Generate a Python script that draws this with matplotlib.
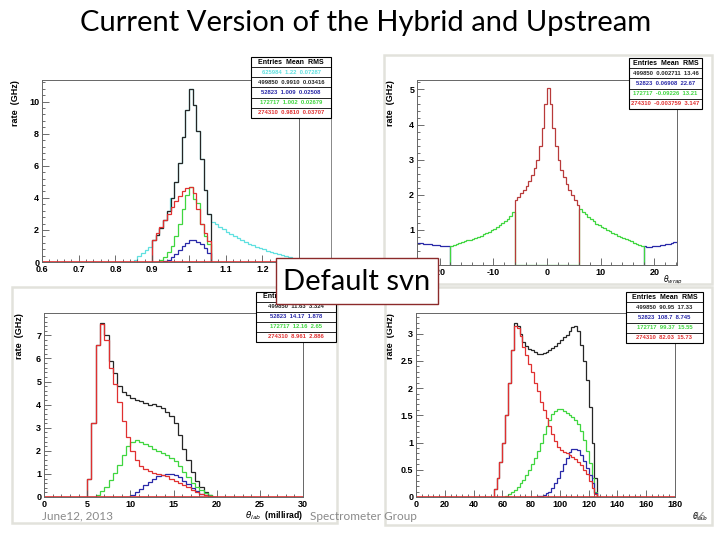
import numpy as np
import matplotlib.pyplot as plt
from matplotlib.patches import Rectangle
from matplotlib.ticker import AutoMinorLocator, MultipleLocator

plt.rcParams['font.family'] = ['Liberation Sans', 'DejaVu Sans']
plt.rcParams['axes.unicode_minus'] = False

W, H = 720, 540
BLACK = '#262626'
CYAN = '#5fe0e0'
BLUE = '#2828a8'
GREEN = '#3fd63f'
RED = '#e03030'

# --- top left: ratio, bins of 0.01
p1_bin = 0.01
p1_cyan_start = 0.85
p1_cyan = [0.15, 0.35, 0.55, 0.75, 0.95,
           1.4, 1.7, 2.1, 2.6, 3.2, 4.0, 5.0, 6.2, 7.8, 9.5, 10.8, 9.8, 8.2, 6.4, 4.5, 3.0,
           2.5, 2.35, 2.2, 2.05, 1.9, 1.75, 1.6, 1.48, 1.36, 1.25, 1.14, 1.04, 0.95, 0.86,
           0.78, 0.7, 0.62, 0.55, 0.48, 0.42, 0.36, 0.3, 0.0, 0.0]
p1_black_start = 0.90
p1_black = [1.4, 1.7, 2.1, 2.6, 3.2, 4.0, 5.0, 6.2, 7.8, 9.5, 10.8, 9.8, 8.2, 6.4, 4.5, 3.0]
p1_green_start = 0.91
p1_green = [0.02, 0.1, 0.3, 0.6, 1.0, 1.6, 2.4, 3.3, 4.2, 4.7, 3.9, 3.7, 2.4, 1.6, 1.1]
p1_blue_start = 0.93
p1_blue = [0.05, 0.15, 0.3, 0.5, 0.75, 1.0, 1.2, 1.35, 1.35, 1.25, 1.1, 0.85, 0.55]
p1_red_start = 0.90
p1_red = [1.4, 1.8, 2.2, 2.6, 3.0, 3.4, 3.8, 4.1, 4.4, 4.6, 4.7, 4.3, 3.3, 2.4, 1.8, 1.3]

# --- top right: theta_wrap, bins of 0.5
p2_bin = 0.5
p2_blue_l_start = -24.5
p2_blue_l = [0.64, 0.63, 0.62, 0.61, 0.6, 0.59, 0.58, 0.57, 0.56, 0.55, 0.54, 0.53, 0.53]
p2_blue_r_start = 18.0
p2_blue_r = [0.53, 0.52, 0.52, 0.53, 0.54, 0.55, 0.56, 0.58, 0.6, 0.61, 0.63, 0.65, 0.66]
p2_green_start = -18.0
p2_green = [0.54, 0.57, 0.6, 0.62, 0.65, 0.67, 0.7, 0.72, 0.75, 0.78, 0.8, 0.84,
            0.87, 0.91, 0.95, 0.99, 1.03, 1.08, 1.13, 1.19, 1.25, 1.32, 1.4, 1.5,
            0, 0, 0, 0, 0, 0, 0, 0, 0, 0, 0, 0,
            0, 0, 0, 0, 0, 0, 0, 0, 0, 0, 0, 0,
            1.6, 1.52, 1.45, 1.38, 1.3, 1.24, 1.18, 1.13, 1.08, 1.04, 1.0, 0.96,
            0.92, 0.88, 0.84, 0.8, 0.77, 0.73, 0.7, 0.67, 0.64, 0.61, 0.58, 0.55]
p2_red_start = -6.0
p2_red = [1.85, 1.95, 2.05, 2.15, 2.25, 2.4, 2.55, 2.75, 3.0, 3.4, 3.9, 4.6,
          5.05, 4.6, 3.9, 3.4, 3.0, 2.7, 2.5, 2.3, 2.15, 2.0, 1.85, 1.7]

# --- bottom left: theta_lab (millirad), bins of 0.5
p3_bin = 0.5
p3_black_start = 5.0
p3_black = [0.8, 3.2, 6.6, 7.55, 7.0, 5.9, 5.35, 4.8, 4.55, 4.4, 4.3, 4.2, 4.15, 4.05, 4.0,
            4.02, 3.95, 3.85, 3.7, 3.5, 3.2, 2.7, 2.1, 1.6, 1.1, 0.7, 0.45, 0.22, 0.08, 0.02]
p3_red_start = 5.0
p3_red = [0.8, 3.2, 6.6, 7.5, 6.8, 5.6, 4.9, 4.1, 3.3, 2.6, 2.0, 1.6, 1.35, 1.2, 1.12,
          1.05, 1.0, 0.95, 0.9, 0.8, 0.7, 0.6, 0.5, 0.42, 0.32, 0.22, 0.14, 0.08, 0.03, 0.0]
p3_green_start = 6.0
p3_green = [0.08, 0.25, 0.45, 0.75, 1.05, 1.4, 1.8, 2.2, 2.4, 2.45, 2.4, 2.3, 2.2, 2.1,
            2.0, 1.9, 1.8, 1.68, 1.55, 1.35, 1.1, 0.85, 0.62, 0.45, 0.3, 0.17, 0.07, 0.02]
p3_blue_start = 9.5
p3_blue = [0.02, 0.08, 0.2, 0.35, 0.5, 0.65, 0.8, 0.9, 0.97, 1.01, 1.0, 0.95, 0.85, 0.7,
           0.55, 0.38, 0.25, 0.15, 0.07, 0.03, 0.0]

# --- bottom right: theta_lab, bins of 2
p4_bin = 2.0
p4_black_start = 54
p4_black = [0.15, 0.35, 0.65, 1.0, 1.5, 2.1, 2.7, 3.2, 3.15, 3.0, 2.85, 2.78, 2.72, 2.7,
            2.66, 2.63, 2.62, 2.64, 2.67, 2.7, 2.73, 2.78, 2.83, 2.88, 2.93, 2.98, 3.05,
            3.12, 3.15, 3.05, 2.8, 2.5, 2.15, 1.65, 1.0, 0.35]
p4_red_start = 54
p4_red = [0.15, 0.35, 0.65, 1.0, 1.5, 2.1, 2.7, 3.15, 3.1, 2.95, 2.75, 2.6, 2.45, 2.3,
          2.1, 1.95, 1.75, 1.6, 1.45, 1.3, 1.15, 1.02, 0.92, 0.86, 0.83, 0.8, 0.78, 0.74,
          0.7, 0.65, 0.58, 0.5, 0.42, 0.3, 0.17, 0.06]
p4_green_start = 62
p4_green = [0.02, 0.05, 0.09, 0.13, 0.18, 0.25, 0.32, 0.4, 0.5, 0.6, 0.72, 0.85, 1.0, 1.15,
            1.3, 1.42, 1.52, 1.58, 1.62, 1.61, 1.58, 1.54, 1.5, 1.47, 1.42, 1.35, 1.22,
            1.05, 0.85, 0.62, 0.35, 0.1]
p4_blue_start = 84
p4_blue = [0.01, 0.02, 0.04, 0.07, 0.1, 0.16, 0.25, 0.35, 0.47, 0.6, 0.72, 0.82, 0.88,
           0.89, 0.87, 0.78, 0.66, 0.53, 0.4, 0.25, 0.08]

# stats boxes: Entries Mean RMS
stats1 = [('625984  1.22  0.07287', CYAN), ('499850  0.9910  0.03416', BLACK),
          ('52823  1.009  0.02508', BLUE), ('172717  1.002  0.02679', GREEN),
          ('274310  0.9810  0.03707', RED)]
stats2 = [('499850  0.002711  13.46', BLACK), ('52823  0.06908  22.67', BLUE),
          ('172717  -0.09226  13.21', GREEN), ('274310  -0.003759  3.147', RED)]
stats3 = [('499850  11.63  3.324', BLACK), ('52823  14.17  1.878', BLUE),
          ('172717  12.16  2.65', GREEN), ('274310  8.961  2.886', RED)]
stats4 = [('499850  90.95  17.33', BLACK), ('52823  108.7  8.745', BLUE),
          ('172717  99.37  15.55', GREEN), ('274310  82.03  15.73', RED)]


def pax(fig, l, t, r, b):
    # axes from pixel box (top-left origin)
    return fig.add_axes([l / W, 1 - b / H, (r - l) / W, (b - t) / H])


def hist(ax, start, width, vals, color, lw=0.9):
    edges = start + width * np.arange(len(vals) + 1)
    ax.stairs(vals, edges, baseline=0, color=color, lw=lw)


def root_style(ax, xmaj, ymaj, xlab_lim, ylim):
    ax.set_xlim(*xlab_lim)
    ax.set_ylim(*ylim)
    ax.xaxis.set_major_locator(MultipleLocator(xmaj))
    ax.yaxis.set_major_locator(MultipleLocator(ymaj))
    ax.xaxis.set_minor_locator(AutoMinorLocator(5))
    ax.yaxis.set_minor_locator(AutoMinorLocator(5))
    ax.tick_params(which='both', direction='in', top=False, right=False,
                   labelsize=6.5, pad=2, width=0.6, color='#555555')
    ax.tick_params(which='major', length=5)
    ax.tick_params(which='minor', length=2.5)
    for lab in ax.get_xticklabels() + ax.get_yticklabels():
        lab.set_fontweight('bold')
    for sp in ax.spines.values():
        sp.set_linewidth(0.7)
        sp.set_color('#666666')
    ax.set_ylabel('rate  (GHz)', fontsize=6.5, fontweight='bold', loc='top')


def stats_box(fig, l, t, r, b, rows):
    n = len(rows) + 1
    fig.add_artist(Rectangle((l / W, 1 - b / H), (r - l) / W, (b - t) / H,
                             transform=fig.transFigure, facecolor='white',
                             edgecolor='black', lw=0.8, zorder=5))
    dh = (b - t) / n
    for i in range(1, n):
        y = 1 - (t + i * dh) / H
        fig.add_artist(plt.Line2D([l / W, r / W], [y, y], transform=fig.transFigure,
                                  color='black', lw=0.6, zorder=6))
    fig.text((l + r) / 2 / W, 1 - (t + dh / 2) / H, 'Entries  Mean  RMS', fontsize=5,
             fontweight='bold', ha='center', va='center', zorder=7)
    for i, (txt, col) in enumerate(rows):
        fig.text((l + r) / 2 / W, 1 - (t + (i + 1.5) * dh) / H, txt, fontsize=4.2,
                 fontweight='bold', color=col, ha='center', va='center', zorder=7)


fig = plt.figure(figsize=(7.2, 5.4), dpi=100)

# canvas frames of the pasted root plots
for l, t, r, b in [(384, 55, 712, 284), (12, 287, 337, 523), (385, 287, 712, 525)]:
    fig.add_artist(Rectangle((l / W, 1 - b / H), (r - l) / W, (b - t) / H,
                             transform=fig.transFigure, fill=False,
                             edgecolor='#e2e2dc', lw=1.8, zorder=1))
fig.add_artist(plt.Line2D([331 / W, 331 / W], [1 - 118 / H, 1 - 262 / H],
                          transform=fig.transFigure, color='#888888', lw=0.7))

# top left
ax1 = pax(fig, 42, 80, 299, 262)
ax1.axhline(0, color=RED, lw=1.2)
hist(ax1, p1_cyan_start, p1_bin, p1_cyan, CYAN)
hist(ax1, p1_black_start, p1_bin, p1_black, BLACK)
hist(ax1, p1_green_start, p1_bin, p1_green, GREEN)
hist(ax1, p1_blue_start, p1_bin, p1_blue, BLUE)
hist(ax1, p1_red_start, p1_bin, p1_red, RED)
root_style(ax1, 0.1, 2, (0.6, 1.3), (0, 11.35))
ax1.set_xticks([0.6, 0.7, 0.8, 0.9, 1.0, 1.1, 1.2])
ax1.set_xticklabels(['0.6', '0.7', '0.8', '0.9', '1', '1.1', '1.2'], fontweight='bold')
ax1.yaxis.set_label_coords(-0.086, 1.0)

# top right
ax2 = pax(fig, 417, 80, 677, 265)
hist(ax2, p2_blue_l_start, p2_bin, p2_blue_l, BLUE)
hist(ax2, p2_blue_r_start, p2_bin, p2_blue_r, BLUE)
hist(ax2, p2_green_start, p2_bin, p2_green, GREEN)
hist(ax2, p2_red_start, p2_bin, p2_red, '#b83a3a')
root_style(ax2, 10, 1, (-24.2, 24.2), (0, 5.27))
ax2.yaxis.set_label_coords(-0.085, 1.0)
ax2.text(0.985, -0.085, r'$\theta_{wrap}$', transform=ax2.transAxes, fontsize=5.5,
         ha='center', va='center')

# bottom left
ax3 = pax(fig, 44, 313, 303, 497)
ax3.axhline(0, color=RED, lw=1.2)
hist(ax3, p3_black_start, p3_bin, p3_black, BLACK)
hist(ax3, p3_green_start, p3_bin, p3_green, GREEN)
hist(ax3, p3_blue_start, p3_bin, p3_blue, BLUE)
hist(ax3, p3_red_start, p3_bin, p3_red, RED)
root_style(ax3, 5, 1, (0, 30), (0, 7.97))
ax3.yaxis.set_label_coords(-0.077, 1.0)
ax3.text(1.0, -0.1, r'$\theta_{lab}$  (millirad)', transform=ax3.transAxes,
         fontsize=6.3, fontweight='bold', ha='right', va='center')

# bottom right
ax4 = pax(fig, 416, 313, 675, 497)
ax4.axhline(0, color=RED, lw=1.2)
hist(ax4, p4_black_start, p4_bin, p4_black, BLACK)
hist(ax4, p4_green_start, p4_bin, p4_green, GREEN)
hist(ax4, p4_blue_start, p4_bin, p4_blue, BLUE)
hist(ax4, p4_red_start, p4_bin, p4_red, RED)
root_style(ax4, 20, 0.5, (0, 180), (0, 3.38))
ax4.set_yticks([0, 0.5, 1, 1.5, 2, 2.5, 3])
ax4.set_yticklabels(['0', '0.5', '1', '1.5', '2', '2.5', '3'], fontweight='bold')
ax4.yaxis.set_label_coords(-0.081, 1.0)
ax4.text(1.097, -0.11, r'$\theta_{lab}$', transform=ax4.transAxes, fontsize=6,
         ha='center', va='center')

stats_box(fig, 251, 57, 331, 118, stats1)
stats_box(fig, 629, 58, 702, 109, stats2)
stats_box(fig, 256, 292, 336, 342, stats3)
stats_box(fig, 626, 292, 703, 343, stats4)

# slide text
fig.text(366 / W, 1 - 23 / H, 'Current Version of the Hybrid and Upstream', fontsize=21,
         family='Lato', ha='center', va='center')
fig.add_artist(Rectangle((276 / W, 1 - 304 / H), 162 / W, 46 / H, transform=fig.transFigure,
                         facecolor='white', edgecolor='#8c2a2a', lw=1.0, zorder=10))
fig.text(357 / W, 1 - 282 / H, 'Default svn', fontsize=21, family='Lato',
         ha='center', va='center', zorder=11)
fig.text(42 / W, 1 - 516 / H, 'June12, 2013', fontsize=8.5, family='Lato',
         color='#8a8a8a', ha='left', va='center')
fig.text(310 / W, 1 - 516 / H, 'Spectrometer Group', fontsize=8.5, family='Lato',
         color='#8a8a8a', ha='left', va='center')
fig.text(700 / W, 1 - 516 / H, '46', fontsize=8.5, family='Lato',
         color='#8a8a8a', ha='center', va='center')

fig.savefig('out.png', dpi=100)
